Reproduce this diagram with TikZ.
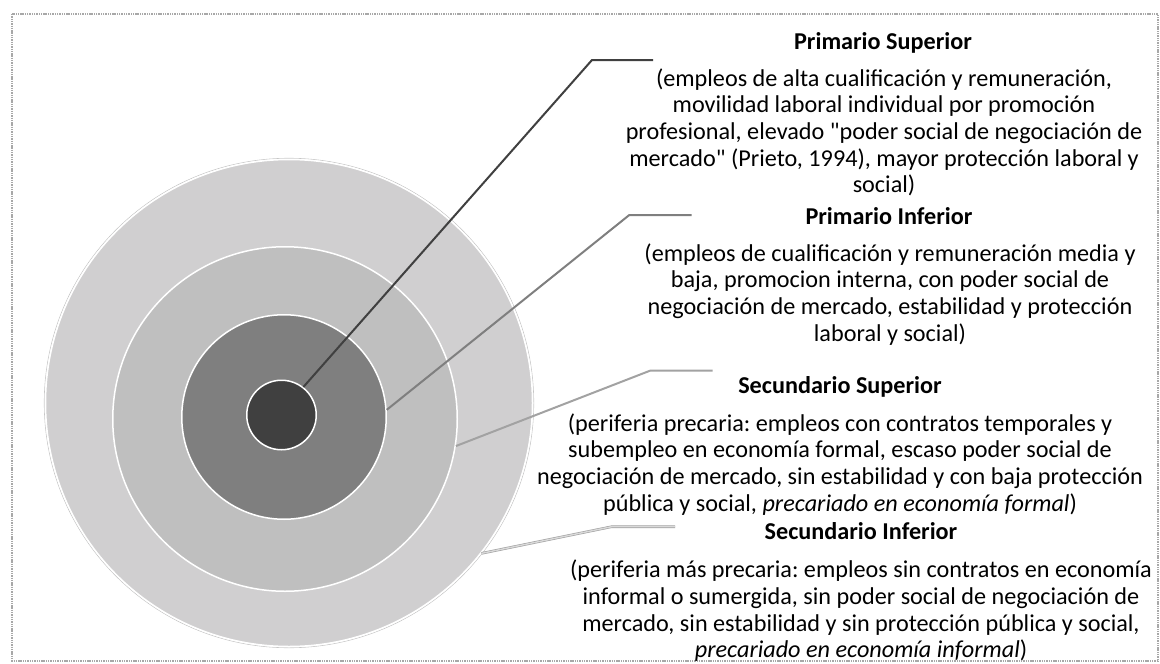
\documentclass[tikz,border=0pt]{standalone}
\usepackage{fontspec}
\setmainfont{Carlito}
\frenchspacing
\definecolor{ringA}{HTML}{D0CFD0}
\definecolor{ringB}{HTML}{BFBFBF}
\definecolor{ringC}{HTML}{7F7F7F}
\definecolor{ringD}{HTML}{404040}
\definecolor{frameC}{HTML}{A8A8A8}
\newcommand\lblfont{\fontsize{24.2}{26.7}\selectfont}
\newcommand\sq{\XeTeXglyph\XeTeXcharglyph"22\relax}
\tikzset{
  ring/.style={circle, inner sep=0pt, draw=white, line width=1.5pt},
  leader/.style={line width=2pt, line join=round},
  txt/.style={font=\lblfont, inner sep=0pt, anchor=base, text=black},
  ttl/.style={txt, font=\lblfont\bfseries},
  frame/.style={draw=frameC, line width=1.4pt, dash pattern=on 1.4pt off 0.9pt}
}
\begin{document}
\begin{tikzpicture}[x=1pt,y=-1pt]
\useasboundingbox (0,0) rectangle (1160,664);
\draw[frame] (12,14) rectangle (1158,661);

% rings
\node[circle, inner sep=0pt, minimum size=489.5pt, draw=gray!45, line width=0.6pt] (outerEdge) at (289,403) {};
\node[ring, fill=ringA, minimum size=487pt] (outer) at (289,403) {};
\node[ring, fill=ringB, minimum size=344.5pt] (second) at (285,419) {};
\node[ring, fill=ringC, minimum size=204.5pt] (third) at (284,417) {};
\node[ring, fill=ringD, minimum size=69.5pt] (core) at (281.5,415) {};

% leader elbows
\coordinate (e1) at (592,60);   \coordinate (h1) at (653,60);
\coordinate (e2) at (629.3,215); \coordinate (h2) at (691.7,215);
\coordinate (e3) at (650,370.7); \coordinate (h3) at (712.7,370.7);
\coordinate (e4) at (611.7,526.7); \coordinate (h4) at (675,526.7);

\draw[leader, draw=ringD] (core.52.6) -- (e1) -- (h1);
\draw[leader, draw=ringC] (third.4.8) -- (e2) -- (h2);
\draw[leader, draw=ringB!85!black] (second.-9.8) -- (e3) -- (h3);
\draw[line width=0.6pt, draw=gray!75, double=ringA!80, double distance=1.4pt, line join=round] (outer.-38.3) -- (e4) -- (h4);

% texts
\node[ttl] (t1) at (883,49.7) {Primario Superior};
\foreach \t [count=\i] in {
  {(empleos de alta cualificación y remuneración,},
  {movilidad laboral individual por promoción},
  {profesional, elevado \sq poder social de negociación de},
  {mercado\sq\ (Prieto, 1994), mayor protección laboral y},
  {social)}}
  \node[txt] (pa-\i) at (884,{86+26.7*(\i-1)}) {\t};

\node[ttl] (t2) at (889,224) {Primario Inferior};
\foreach \t [count=\i] in {
  {(empleos de cualificación y remuneración media y},
  {baja, promocion interna, con poder social de},
  {negociación de mercado, estabilidad y protección},
  {laboral y social)}}
  \node[txt] (pb-\i) at (890,{261+26.7*(\i-1)}) {\t};

\node[ttl] (t3) at (840,393) {Secundario Superior};
\foreach \t [count=\i] in {
  {(periferia precaria: empleos con contratos temporales y},
  {subempleo en economía formal, escaso poder social de},
  {negociación de mercado, sin estabilidad y con baja protección},
  {pública y social, \textit{precariado en economía formal})}}
  \node[txt] (pc-\i) at (840,{431+26.7*(\i-1)}) {\t};

\node[ttl] (t4) at (861,539.7) {Secundario Inferior};
\foreach \t [count=\i] in {
  {(periferia más precaria: empleos sin contratos en economía},
  {informal o sumergida, sin poder social de negociación de},
  {mercado, sin estabilidad y sin protección pública y social,},
  {\textit{precariado en economía informal})}}
  \node[txt] (pd-\i) at (861,{577.7+26.7*(\i-1)}) {\t};
\end{tikzpicture}
\end{document}
